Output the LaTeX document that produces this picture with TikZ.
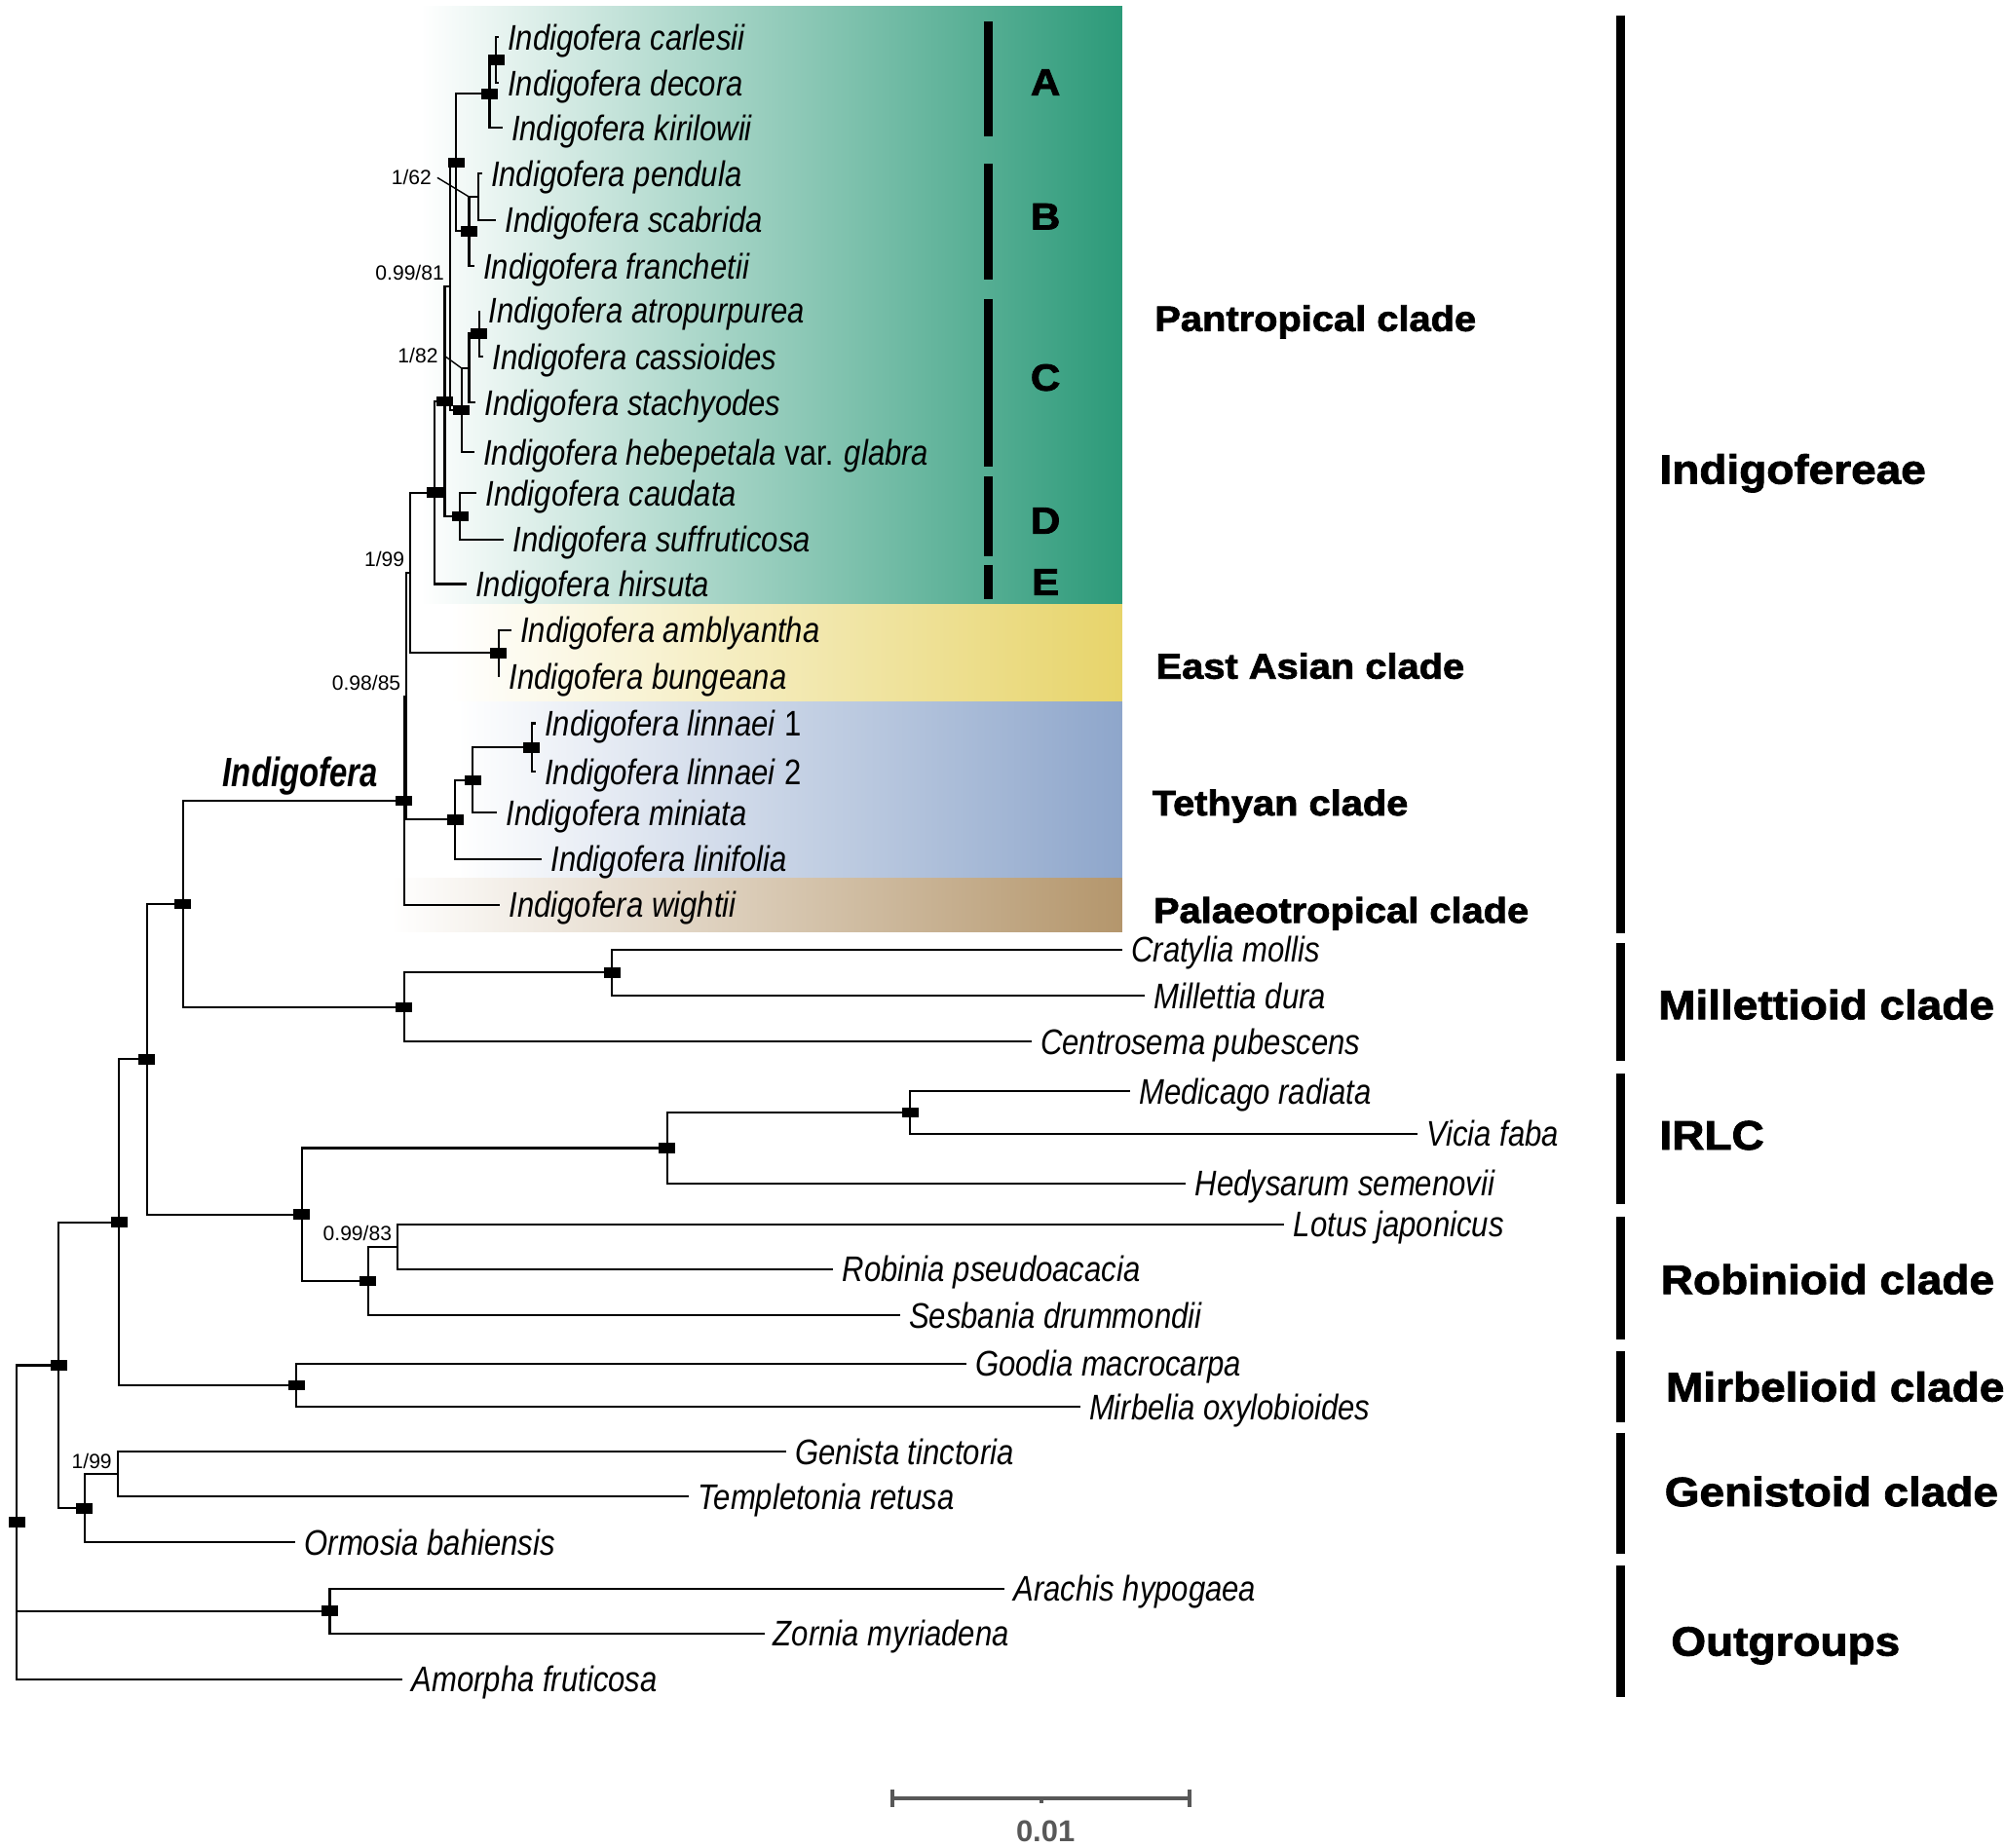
\documentclass[tikz,border=0pt]{standalone}
\usepackage{fontspec}
\setmainfont{Liberation Sans}
\newfontfamily\taxfont{Liberation Sans}[FakeStretch=0.85]
\newfontfamily\genusfont{Liberation Sans}[FakeStretch=0.78]
\newfontfamily\widefont{Liberation Sans}[FakeStretch=1.09, BoldFeatures={FakeBold=2}]
\usepackage{xcolor}
\usetikzlibrary{positioning}
\definecolor{pantropgreen}{RGB}{44,154,121}
\definecolor{eastyellow}{RGB}{231,212,106}
\definecolor{tethysblue}{RGB}{142,166,203}
\definecolor{palaeobrown}{RGB}{180,150,108}
\definecolor{bargray}{RGB}{88,88,88}
\newcommand{\bandshading}[3]{\pgfdeclarehorizontalshading{#1}{100bp}{color(0bp)=(white); color(#3bp)=(white); color(75bp)=(#2); color(100bp)=(#2)}}
\bandshading{pantropshade}{pantropgreen}{27.5}
\bandshading{eastshade}{eastyellow}{29.5}
\bandshading{tethysshade}{tethysblue}{30}
\bandshading{palaeoshade}{palaeobrown}{25.5}
\newcommand{\genus}{Indigofera}
\tikzset{
branch/.style={line width=0.6pt},
taxon/.style={anchor=west, inner xsep=2.5pt, inner ysep=0pt, text height=7.5pt, text depth=0pt, font=\taxfont\fontsize{10.4}{12}\selectfont\itshape},
nodebar/.style={fill=black, inner sep=0pt, minimum width=0.17cm, minimum height=0.105cm},
support/.style={font=\fontsize{6}{7}\selectfont, inner sep=1.5pt, anchor=south east},
leader/.style={line width=0.4pt},
cladebar/.style={line width=2.6pt},
cladelab/.style={anchor=west, inner sep=0pt, text height=7.5pt, text depth=0pt, font=\widefont\bfseries\fontsize{10.4}{12}\selectfont},
grouplab/.style={anchor=west, inner sep=0pt, text height=8.6pt, text depth=0pt, font=\widefont\bfseries\fontsize{12}{14}\selectfont},
sublab/.style={inner sep=0pt, text height=7.9pt, text depth=0pt, font=\widefont\bfseries\fontsize{11}{13}\selectfont},
scalebar/.style={draw=bargray, line width=1.1pt}
}
\begin{document}
\begin{tikzpicture}[x=0.013119cm, y=-0.013119cm]
\useasboundingbox (0,0) rectangle (1568,1446);

\shade[shading=pantropshade] (300,5) rectangle (878,473);
\shade[shading=eastshade] (300,473) rectangle (878,549);
\shade[shading=tethysshade] (300,549) rectangle (878,687);
\shade[shading=palaeoshade] (300,687) rectangle (878,729);

\node[taxon] (carl) at (390,29) {\genus{} carlesii};
\node[taxon] (deco) at (390,65) {\genus{} decora};
\node[taxon] (kiri) at (393,100) {\genus{} kirilowii};
\node[taxon] (pend) at (377,136) {\genus{} pendula};
\node[taxon] (scab) at (388,172) {\genus{} scabrida};
\node[taxon] (fran) at (371,208) {\genus{} franchetii};
\node[taxon] (atro) at (375,243) {\genus{} atropurpurea};
\node[taxon] (cass) at (378,279) {\genus{} cassioides};
\node[taxon] (stac) at (372,315) {\genus{} stachyodes};
\node[taxon] (hebe) at (371,354) {\genus{} hebepetala \textup{var.} glabra};
\node[taxon] (caud) at (373,386) {\genus{} caudata};
\node[taxon] (suff) at (394,422) {\genus{} suffruticosa};
\node[taxon] (hirs) at (365,457) {\genus{} hirsuta};
\node[taxon] (ambl) at (400,493) {\genus{} amblyantha};
\node[taxon] (bung) at (391,529) {\genus{} bungeana};
\node[taxon] (lin1) at (419,566) {\genus{} linnaei \textup{1}};
\node[taxon] (lin2) at (419,604) {\genus{} linnaei \textup{2}};
\node[taxon] (mini) at (389,636) {\genus{} miniata};
\node[taxon] (linf) at (424,672) {\genus{} linifolia};
\node[taxon] (wigh) at (391,708) {\genus{} wightii};
\node[taxon] (crat) at (878,743) {Cratylia mollis};
\node[taxon] (mill) at (896,779) {Millettia dura};
\node[taxon] (cent) at (807,815) {Centrosema pubescens};
\node[taxon] (medi) at (884,854) {Medicago radiata};
\node[taxon] (vici) at (1109,887) {Vicia faba};
\node[taxon] (hedy) at (928,926) {Hedysarum semenovii};
\node[taxon] (lotu) at (1005,958) {Lotus japonicus};
\node[taxon] (robi) at (652,993) {Robinia pseudoacacia};
\node[taxon] (sesb) at (704,1029) {Sesbania drummondii};
\node[taxon] (good) at (756,1067) {Goodia macrocarpa};
\node[taxon] (mirb) at (845,1101) {Mirbelia oxylobioides};
\node[taxon] (geni) at (615,1136) {Genista tinctoria};
\node[taxon] (temp) at (539,1171) {Templetonia retusa};
\node[taxon] (ormo) at (231,1207) {Ormosia bahiensis};
\node[taxon] (arac) at (786,1243) {Arachis hypogaea};
\node[taxon] (zorn) at (598,1278) {Zornia myriadena};
\node[taxon] (amor) at (315,1314) {Amorpha fruticosa};

\coordinate (a1) at (388,47);
\coordinate (a2) at (383,73.5);
\coordinate (b1) at (374,154);
\coordinate (b2) at (367,181);
\coordinate (ab) at (357,127.3);
\coordinate (c1) at (375,261);
\coordinate (c2) at (367,288);
\coordinate (c3) at (361,321);
\coordinate (d1) at (360,404);
\coordinate (z1) at (352,224.1);
\coordinate (z2) at (348,314);
\coordinate (w) at (340,385.5);
\coordinate (ea) at (390,511);
\coordinate (v) at (321,448.3);
\coordinate (t1) at (416,585);
\coordinate (t2) at (370,610.5);
\coordinate (t3) at (356,641.3);
\coordinate (t) at (318,544.8);
\coordinate (u) at (316,626.4);
\coordinate (m1) at (479,761);
\coordinate (m2) at (316,788);
\coordinate (n1) at (143,707.2);
\coordinate (i1) at (712,870.5);
\coordinate (i2) at (522,898.3);
\coordinate (r1) at (311,975.5);
\coordinate (r2) at (288,1002.3);
\coordinate (ir) at (236,950.3);
\coordinate (n2) at (115,828.8);
\coordinate (mb) at (232,1084);
\coordinate (n3) at (93,956.4);
\coordinate (g1) at (92,1153.5);
\coordinate (g2) at (66,1180.3);
\coordinate (n4) at (46,1068.3);
\coordinate (og) at (258,1260.5);
\coordinate (root) at (13,1191.2);

\draw[branch] (a1) |- (carl.west) (a1) |- (deco.west);
\draw[branch] (a2) |- (a1) (a2) |- (kiri.west);
\draw[branch] (b1) |- (pend.west) (b1) |- (scab.west);
\draw[branch] (b2) |- (b1) (b2) |- (fran.west);
\draw[branch] (ab) |- (a2) (ab) |- (b2);
\draw[branch] (c1) |- (atro.west) (c1) |- (cass.west);
\draw[branch] (c2) |- (c1) (c2) |- (stac.west);
\draw[branch] (c3) |- (c2) (c3) |- (hebe.west);
\draw[branch] (d1) |- (caud.west) (d1) |- (suff.west);
\draw[branch] (z1) |- (ab) (z1) |- (c3);
\draw[branch] (z2) |- (z1) (z2) |- (d1);
\draw[branch] (w) |- (z2) (w) |- (hirs.west);
\draw[branch] (ea) |- (ambl.west) (ea) |- (bung.west);
\draw[branch] (v) |- (w) (v) |- (ea);
\draw[branch] (t1) |- (lin1.west) (t1) |- (lin2.west);
\draw[branch] (t2) |- (t1) (t2) |- (mini.west);
\draw[branch] (t3) |- (t2) (t3) |- (linf.west);
\draw[branch] (t) |- (v) (t) |- (t3);
\draw[branch] (u) |- (t) (u) |- (wigh.west);
\draw[branch] (m1) |- (crat.west) (m1) |- (mill.west);
\draw[branch] (m2) |- (m1) (m2) |- (cent.west);
\draw[branch] (n1) |- (u) (n1) |- (m2);
\draw[branch] (i1) |- (medi.west) (i1) |- (vici.west);
\draw[branch] (i2) |- (i1) (i2) |- (hedy.west);
\draw[branch] (r1) |- (lotu.west) (r1) |- (robi.west);
\draw[branch] (r2) |- (r1) (r2) |- (sesb.west);
\draw[branch] (ir) |- (i2) (ir) |- (r2);
\draw[branch] (n2) |- (n1) (n2) |- (ir);
\draw[branch] (mb) |- (good.west) (mb) |- (mirb.west);
\draw[branch] (n3) |- (n2) (n3) |- (mb);
\draw[branch] (g1) |- (geni.west) (g1) |- (temp.west);
\draw[branch] (g2) |- (g1) (g2) |- (ormo.west);
\draw[branch] (n4) |- (n3) (n4) |- (g2);
\draw[branch] (og) |- (arac.west) (og) |- (zorn.west);
\draw[branch] (root) |- (n4) (root) |- (og) (root) |- (amor.west);

\foreach \n in {a1,a2,ab,b2,c1,c3,z2,d1,w,ea,t1,t2,t3,u,n1,m1,m2,i1,i2,ir,r2,n2,mb,n3,g2,n4,og,root}
  \node[nodebar] (bar-\n) at (\n) {};

\node[support, anchor=center] (s162) at (322,139) {1/62};
\draw[leader] (s162.east) -- (b2 |- b1);
\node[support, anchor=center] (s182) at (327,278) {1/82};
\draw[leader] (s182.east) -- (c3 |- c2);
\node[support] (s-z1) at (z1) {0.99/81};
\node[support] (s-v) at (v) {1/99};
\node[support] (s-t) at (t) {0.98/85};
\node[support] (s-r1) at (r1) {0.99/83};
\node[support] (s-g1) at (g1) {1/99};

\node[font=\genusfont\bfseries\itshape\fontsize{12}{14}\selectfont] (indig) at (235,607) {\genus};

\foreach \a/\b/\y/\l in {17/107/64/A, 128/219/169/B, 234/365/295/C, 373/435/407/D, 442/469/455/E}{
  \draw[cladebar] (773,\a) -- (773,\b);
  \node[sublab] (sub\l) at (818,\y) {\l};
}

\node[cladelab] (pantrop) at (903,249) {Pantropical clade};
\node[cladelab] (eastas) at (904,521) {East Asian clade};
\node[cladelab] (tethys) at (901,628) {Tethyan clade};
\node[cladelab] (palaeo) at (902,712) {Palaeotropical clade};

\foreach \a/\b in {12/730, 738/830, 840/942, 952/1048, 1057/1113, 1121/1216, 1225/1328}
  \draw[cladebar] (1268,\a) -- (1268,\b);
\node[grouplab] (indigof) at (1298,367) {Indigofereae};
\node[grouplab] (millet) at (1297,786) {Millettioid clade};
\node[grouplab] (irlc) at (1298,888) {IRLC};
\node[grouplab] (robin) at (1299,1001) {Robinioid clade};
\node[grouplab] (mirbel) at (1303,1085) {Mirbelioid clade};
\node[grouplab] (genist) at (1302,1167) {Genistoid clade};
\node[grouplab] (outgr) at (1307,1284) {Outgroups};

\coordinate (sbl) at (698,1407);
\coordinate (sbr) at (931,1407);
\draw[scalebar] (sbl) -- (sbr);
\draw[scalebar] (698,1400) -- (698,1414) (931,1400) -- (931,1414) (815,1407) -- (815,1411);
\node[font=\bfseries\fontsize{8.8}{10}\selectfont, text=bargray] (scale) at (818,1433) {0.01};
\end{tikzpicture}
\end{document}
